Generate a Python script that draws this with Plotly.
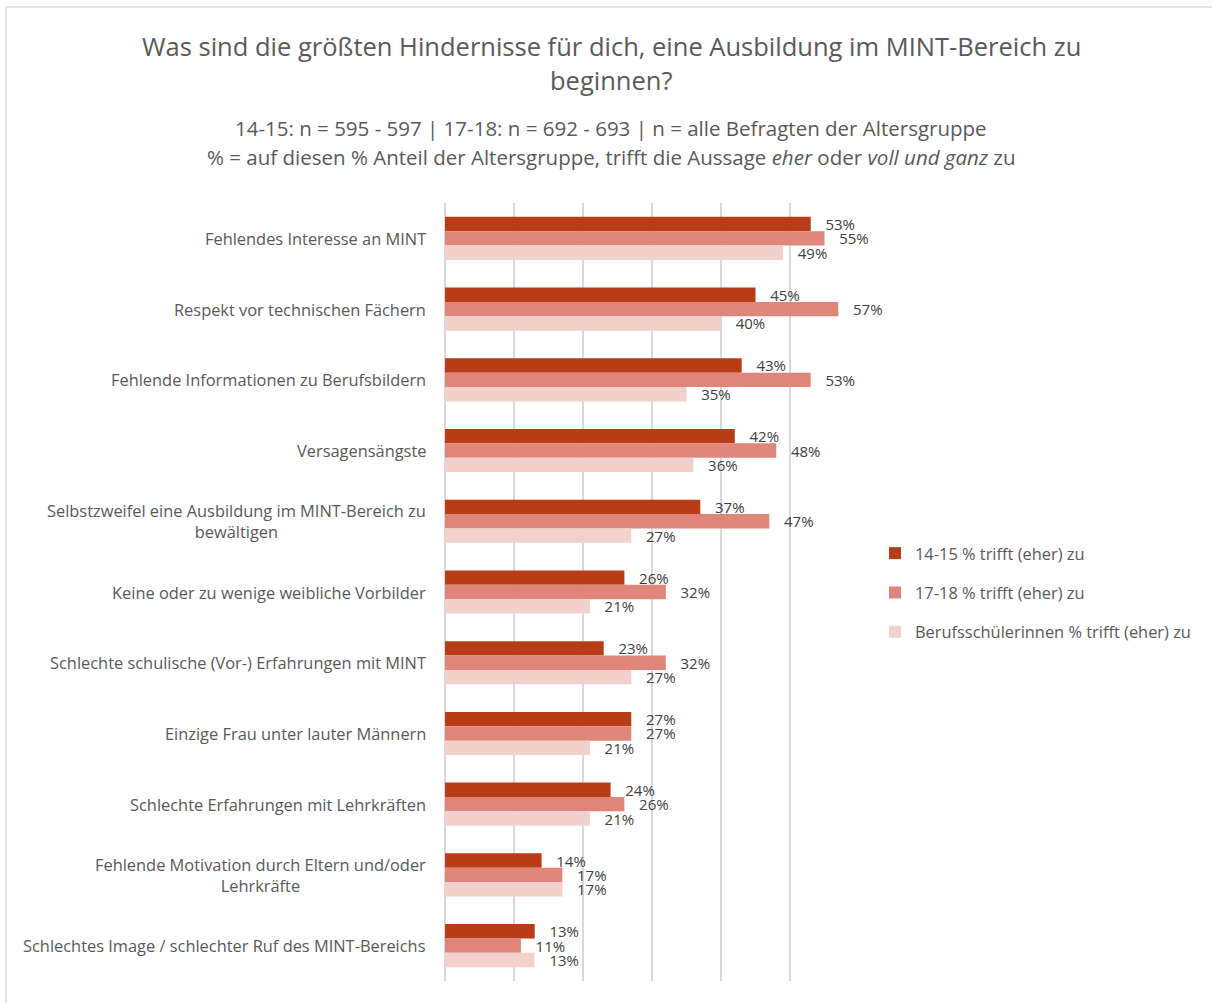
import plotly.graph_objects as go

# Hindernisse (top to bottom)
categories = [
    "Fehlendes Interesse an MINT",
    "Respekt vor technischen Fächern",
    "Fehlende Informationen zu Berufsbildern",
    "Versagensängste",
    "Selbstzweifel eine Ausbildung im MINT-Bereich zu<br>bewältigen",
    "Keine oder zu wenige weibliche Vorbilder",
    "Schlechte schulische (Vor-) Erfahrungen mit MINT",
    "Einzige Frau unter lauter Männern",
    "Schlechte Erfahrungen mit Lehrkräften",
    "Fehlende Motivation durch Eltern und/oder<br>Lehrkräfte",
    "Schlechtes Image / schlechter Ruf des MINT-Bereichs",
]

# Anteil "trifft (eher) zu" in %
values_14_15 = [53, 45, 43, 42, 37, 26, 23, 27, 24, 14, 13]
values_17_18 = [55, 57, 53, 48, 47, 32, 32, 27, 26, 17, 11]
values_berufs = [49, 40, 35, 36, 27, 21, 27, 21, 21, 17, 13]

series_names = [
    "14-15 % trifft (eher) zu",
    "17-18 % trifft (eher) zu",
    "Berufsschülerinnen % trifft (eher) zu",
]
series_values = [values_14_15, values_17_18, values_berufs]
series_colors = ["#B83D16", "#E0857A", "#F2D1CD"]

title_lines = [
    "Was sind die größten Hindernisse für dich, eine Ausbildung im MINT-Bereich zu",
    "beginnen?",
]
subtitle_lines = [
    "14-15: n = 595 - 597 | 17-18: n = 692 - 693 | n = alle Befragten der Altersgruppe",
    "% = auf diesen % Anteil der Altersgruppe, trifft die Aussage <i>eher</i> oder <i>voll und ganz</i> zu",
]

FONT = "Open Sans, sans-serif"
GREY = "#595959"
NBSP = "\u00a0"

fig = go.Figure()
for name, vals, col in zip(series_names, series_values, series_colors):
    fig.add_trace(go.Bar(
        y=categories,
        x=[v / 100 for v in vals],
        orientation="h",
        name=name,
        legendgroup=name,
        marker=dict(color=col, line=dict(width=0)),
        text=[f"{NBSP * 3}{v}%" for v in vals],
        textposition="outside",
        constraintext="none",
        textfont=dict(size=15, color="#404040", family=FONT),
        cliponaxis=False,
        hoverinfo="skip",
    ))

# category labels as centred multi-line annotations
for cat in categories:
    fig.add_annotation(
        x=0, xref="paper", y=cat, yref="y",
        text=cat, showarrow=False,
        xanchor="right", xshift=-17, align="center",
        font=dict(size=16.4, color=GREY, family=FONT),
    )

# title and subtitle, one annotation per line
title_y = [1.2018, 1.1581]
for line, yy in zip(title_lines, title_y):
    fig.add_annotation(
        x=0.401, xref="paper", y=yy, yref="paper", yanchor="middle",
        text=line, showarrow=False,
        font=dict(size=25.5, color=GREY, family=FONT),
    )
subtitle_y = [1.0964, 1.0591]
for line, yy in zip(subtitle_lines, subtitle_y):
    fig.add_annotation(
        x=0.401, xref="paper", y=yy, yref="paper", yanchor="middle",
        text=line, showarrow=False,
        font=dict(size=20.5, color=GREY, family=FONT),
    )

# chart frame (top and left edges)
fig.add_shape(type="line", xref="paper", yref="paper", x0=-1.0604, x1=1.86, y0=1.2519, y1=1.2519,
              line=dict(color="#D9D9D9", width=1.5))
fig.add_shape(type="line", xref="paper", yref="paper", x0=-1.0604, x1=-1.0604, y0=-0.05, y1=1.2519,
              line=dict(color="#D9D9D9", width=1.5))

fig.update_layout(
    width=1212, height=1003,
    margin=dict(l=445, r=353, t=203, b=22),
    paper_bgcolor="white", plot_bgcolor="white",
    barmode="group", bargap=0.39, bargroupgap=0,
    font=dict(family=FONT, color=GREY),
    showlegend=True,
    legend=dict(
        x=(875 - 445) / 414, xanchor="left", y=0.572, yanchor="top",
        traceorder="grouped", tracegroupgap=15,
        font=dict(size=16.4, color=GREY, family=FONT),
        itemwidth=30,
    ),
    xaxis=dict(
        range=[0, 0.6], dtick=0.1, showticklabels=False,
        showgrid=True, gridcolor="#D9D9D9", gridwidth=1.5,
        zeroline=True, zerolinecolor="#D9D9D9", zerolinewidth=1.5,
        showline=False, ticks="",
    ),
    yaxis=dict(
        autorange="reversed", showticklabels=False, ticks="",
        showgrid=False, showline=False,
    ),
)

fig.write_html("out.html")
